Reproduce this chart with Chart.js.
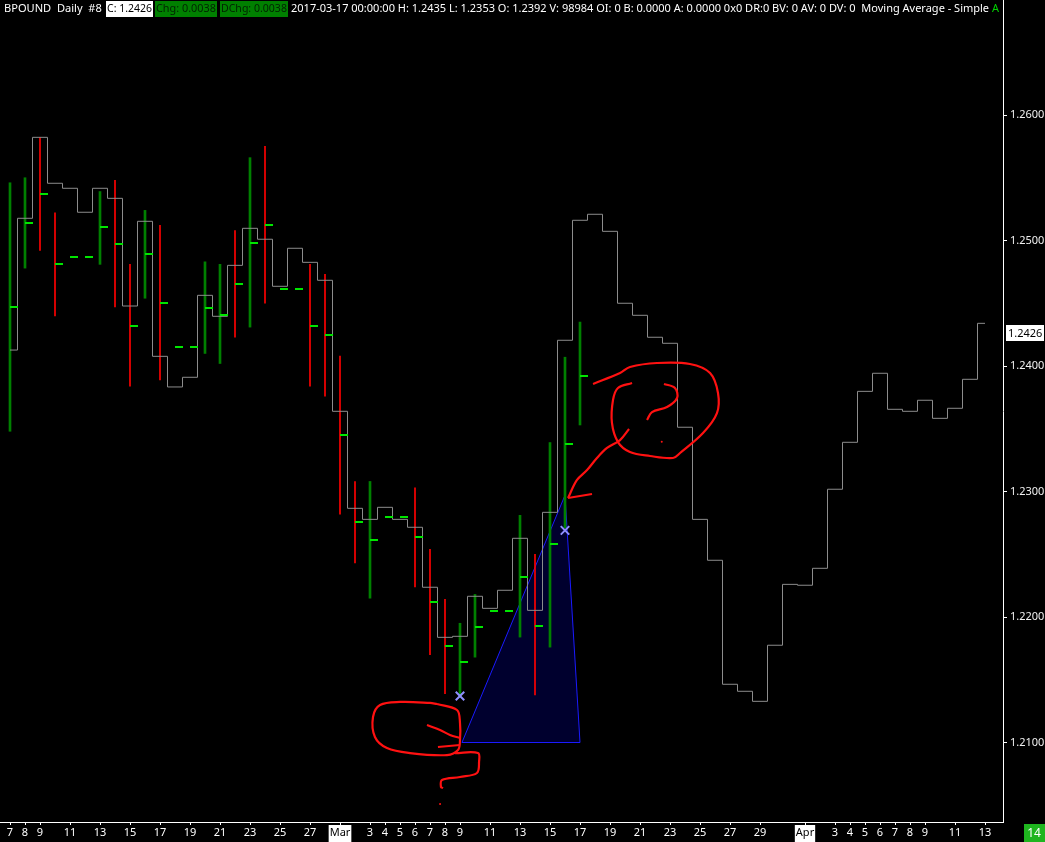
<!DOCTYPE html>
<html>
<head>
<meta charset="utf-8">
<title>BPOUND Daily</title>
<script src="https://cdn.jsdelivr.net/npm/chart.js@4.4.1/dist/chart.umd.min.js"></script>
<style>
  html, body { margin: 0; padding: 0; background: #000; overflow: hidden; }
  #wrap { width: 1045px; height: 842px; }
</style>
</head>
<body>
<div id="wrap"><canvas id="myChart" width="1045" height="842"></canvas></div>
<script>
// one slot per calendar day, day 0 = 2017-02-07
var tickDays = [0, 1, 2, 4, 6, 8, 10, 12, 14, 16, 18, 20, 22, 24, 25, 26, 27, 28, 29, 30, 32, 34, 36, 38, 40, 42, 44, 46, 48, 50, 53, 55, 56, 57, 58, 59, 60, 61, 63, 65];
var tickLabels = ['7', '8', '9', '11', '13', '15', '17', '19', '21', '23', '25', '27', 'Mar', '3', '4', '5', '6', '7', '8', '9', '11', '13', '15', '17', '19', '21', '23', '25', '27', '29', 'Apr', '3', '4', '5', '6', '7', '8', '9', '11', '13'];
var priceTicks = [1.21, 1.22, 1.23, 1.24, 1.25, 1.26];

// daily bars Feb 7 .. Mar 17 (weekends only have the tick)
var barHigh = [1.2546, 1.2550, 1.2582, 1.2522, null, null, 1.2539, 1.2548, 1.2481, 1.2524, 1.2512, null, null, 1.2483, 1.2481, 1.2508, 1.2566, 1.2575, null, null, 1.2481, 1.2473, 1.2408, 1.2308, 1.2308, null, null, 1.2303, 1.2254, 1.2214, 1.2195, 1.2218, null, null, 1.2281, 1.2250, 1.2339, 1.2407, 1.2435];
var barLow = [1.2348, 1.2478, 1.2492, 1.2440, null, null, 1.2481, 1.2447, 1.2384, 1.2454, 1.2389, null, null, 1.2410, 1.2402, 1.2423, 1.2431, 1.2450, null, null, 1.2384, 1.2376, 1.2282, 1.2243, 1.2215, null, null, 1.2224, 1.2170, 1.2139, 1.2136, 1.2168, null, null, 1.2184, 1.2138, 1.2176, 1.2271, 1.2353];
var barTick = [1.2447, 1.2514, 1.2537, 1.2481, 1.2487, 1.2487, 1.2511, 1.2497, 1.2432, 1.2489, 1.2450, 1.2415, 1.2415, 1.2446, 1.2441, 1.2465, 1.2498, 1.2512, 1.2461, 1.2461, 1.2432, 1.2425, 1.2345, 1.2276, 1.2261, 1.2280, 1.2280, 1.2264, 1.2212, 1.2177, 1.2164, 1.2192, 1.2205, 1.2205, 1.2232, 1.2193, 1.2258, 1.2338, 1.2392];
var barDir = ['u', 'u', 'd', 'd', '', '', 'u', 'd', 'd', 'u', 'd', '', '', 'u', 'u', 'd', 'u', 'd', '', '', 'd', 'd', 'd', 'd', 'u', '', '', 'd', 'd', 'd', 'u', 'u', '', '', 'u', 'd', 'u', 'u', 'u'];

// Moving Average - Simple, Feb 7 .. Apr 13
var movingAvg = [1.24127, 1.25177, 1.25822, 1.25456, 1.25416, 1.25225, 1.25416, 1.25336, 1.24478, 1.25153,
  1.24077, 1.23833, 1.2391, 1.24563, 1.24396, 1.24802, 1.25097, 1.2501, 1.24635, 1.24938,
  1.24826, 1.24683, 1.23639, 1.22866, 1.22778, 1.22874, 1.22778, 1.22715, 1.22237, 1.21838,
  1.21846, 1.22165, 1.22069, 1.22213, 1.22627, 1.22053, 1.22834, 1.24205, 1.25161, 1.25209,
  1.25073, 1.245, 1.24404, 1.24229, 1.24181, 1.23512, 1.22778, 1.22452, 1.21464, 1.21408,
  1.21328, 1.21775, 1.2226, 1.22253, 1.22388, 1.23018, 1.23392, 1.23798, 1.23942, 1.23655,
  1.23639, 1.23727, 1.23583, 1.23663, 1.23894, 1.2434];

// drawings, as [day, price]
var triangle = [[30.13, 1.2100], [37, 1.2297], [38, 1.2100], [30.13, 1.2100]];
var markers = [[30, 1.2137], [37, 1.2269]];
var redStrokes = [
  [[28.47, 1.21307], [29.8, 1.21259], [30.0, 1.21155], [30.0, 1.2102], [29.87, 1.2094], [29.13, 1.2090], [26.67, 1.20916], [25.13, 1.20956], [24.33, 1.21044], [24.2, 1.21203], [24.67, 1.21299], [26.0, 1.21323], [28.0, 1.21315], [28.47, 1.21307]],
  [[27.8, 1.21139], [28.67, 1.211], [29.33, 1.2106], [30, 1.21036]],
  [[28.53, 1.20964], [30, 1.2098]],
  [[29.67, 1.20916], [31.2, 1.20916], [31.27, 1.20845], [31.13, 1.20757], [30, 1.20725], [28.8, 1.20701], [28.73, 1.20645], [28.87, 1.20637]],
  [[38.87, 1.23857], [40.67, 1.23944], [41.33, 1.23992], [43.13, 1.24024], [45.33, 1.24016], [46.67, 1.23944], [47.2, 1.23785], [47.13, 1.23625], [46.2, 1.23466], [44.67, 1.23307], [44.2, 1.23267], [42.67, 1.23283], [41.33, 1.23315], [40.53, 1.23394], [40.13, 1.23546], [40.2, 1.23729], [40.53, 1.23825], [41.47, 1.23865]],
  [[43.6, 1.23857], [44.33, 1.23825], [44.47, 1.23745], [43.8, 1.23673], [42.8, 1.23633], [42.47, 1.2357]],
  [[41.27, 1.23498], [40.67, 1.2341], [39.8, 1.23347], [39.13, 1.23267], [38.47, 1.23171], [37.8, 1.23092], [37.2, 1.22948]],
  [[37.2, 1.22948], [38.8, 1.2298]]
];
var redDots = [[28.67, 1.2051], [43.45, 1.23397]];

var lastClose = 1.2426;
var todayLabel = '14';
var headerParts = ['BPOUND  Daily  #8', 'C: 1.2426', 'Chg: 0.0038', 'DChg: 0.0038',
  '2017-03-17 00:00:00 H: 1.2435 L: 1.2353 O: 1.2392 V: 98984 OI: 0 B: 0.0000 A: 0.0000 0x0 DR:0 BV: 0 AV: 0 DV: 0  Moving Average - Simple '];

var FONT = '"Noto Sans", "Open Sans", sans-serif';

function pts(arr) {
  return arr.map(function(p) { return {x: p[0], y: p[1]}; });
}

var upBars = [], downBars = [], ticks = [], maPts = [];
for (var i = 0; i < barTick.length; i++) {
  if (barDir[i] === 'u') upBars.push({x: i, y: [barLow[i], barHigh[i]]});
  if (barDir[i] === 'd') downBars.push({x: i, y: [barLow[i], barHigh[i]]});
  ticks.push({x: i, y: barTick[i]});
}
for (var j = 0; j < movingAvg.length; j++) maPts.push({x: j, y: movingAvg[j]});

// tick mark drawn to the right of the bar
var tickImg = document.createElement('canvas');
tickImg.width = 18; tickImg.height = 2;
var tctx = tickImg.getContext('2d');
tctx.fillStyle = '#00e600';
tctx.fillRect(9, 0, 8, 2);

var datasets = [
  {type: 'line', data: pts(triangle), fill: 'shape', backgroundColor: '#00002e', borderColor: '#1a1aff', borderWidth: 1, pointRadius: 0, tension: 0, order: 10},
  {type: 'bar', data: upBars, backgroundColor: '#008000', barThickness: 2, grouped: false, order: 6},
  {type: 'bar', data: downBars, backgroundColor: '#ff0000', barThickness: 1, grouped: false, order: 6},
  {type: 'line', data: maPts, stepped: 'middle', borderColor: '#8c8c8c', borderWidth: 1, pointRadius: 0, order: 5},
  {type: 'line', data: ticks, showLine: false, pointStyle: tickImg, pointRadius: 4, order: 4},
  {type: 'line', data: pts(markers), showLine: false, pointStyle: 'crossRot', pointRadius: 6, pointBorderWidth: 2, pointBorderColor: '#8f8fff', order: 3}
];
redStrokes.forEach(function(s) {
  datasets.push({type: 'line', data: pts(s), borderColor: '#ff1111', borderWidth: 2.2, pointRadius: 0, tension: 0.35, order: 1});
});
datasets.push({type: 'line', data: pts(redDots), showLine: false, pointRadius: 1, pointBackgroundColor: '#ff1111', pointBorderWidth: 0, order: 1});

function fitFont(c, text, w, max) {
  c.font = max + 'px ' + FONT;
  var m = c.measureText(text).width;
  var size = m > w ? max * w / m : max;
  c.font = size + 'px ' + FONT;
}

function isMonth(v) {
  return /[A-Za-z]/.test(tickLabels[tickDays.indexOf(v)]);
}

var overlay = {
  id: 'overlay',
  afterDraw: function(chart) {
    var c = chart.ctx, area = chart.chartArea, ys = chart.scales.y;
    c.save();
    c.beginPath(); c.rect(0, 0, area.right - 1, 20); c.clip();
    c.textBaseline = 'middle';
    c.textAlign = 'left';
    // symbol
    fitFont(c, headerParts[0], 98, 12);
    c.fillStyle = '#ffffff'; c.fillText(headerParts[0], 4, 9);
    // boxes
    var boxes = [[106, 47, '#ffffff', '#000000'], [155, 62, '#008000', '#002400'], [220, 68, '#008000', '#002400']];
    for (var b = 0; b < boxes.length; b++) {
      var bx = boxes[b];
      c.fillStyle = bx[2]; c.fillRect(bx[0], 1, bx[1], 16);
      fitFont(c, headerParts[b + 1], bx[1] - 2, 12);
      c.fillStyle = bx[3]; c.fillText(headerParts[b + 1], bx[0] + 1, 9);
    }
    fitFont(c, headerParts[4], 702, 12);
    c.fillStyle = '#ffffff'; c.fillText(headerParts[4], 291, 9);
    var endX = 291 + c.measureText(headerParts[4]).width;
    c.fillStyle = '#00d000'; c.fillText('A', endX, 9);
    c.restore();

    // last price label on the axis
    var py = ys.getPixelForValue(lastClose);
    c.save();
    c.fillStyle = '#ffffff';
    c.fillRect(area.right + 3, Math.round(py) - 8, 38, 16);
    c.fillStyle = '#000000';
    c.font = '11px ' + FONT;
    c.textBaseline = 'middle';
    c.fillText(lastClose.toFixed(4), area.right + 5, py);
    // current day box
    c.fillStyle = '#1fb51f';
    c.fillRect(1024, area.bottom + 2, 21, 20);
    c.fillStyle = '#ffffff';
    c.font = '12px ' + FONT;
    c.textAlign = 'center';
    c.fillText(todayLabel, 1034, area.bottom + 12);
    c.restore();
  }
};

var ctx = document.getElementById('myChart').getContext('2d');
var myChart = new Chart(ctx, {
  type: 'bar',
  data: {datasets: datasets},
  plugins: [overlay],
  options: {
    responsive: false,
    animation: false,
    events: [],
    layout: {padding: 0, autoPadding: false},
    plugins: {legend: {display: false}, tooltip: {enabled: false}},
    scales: {
      x: {
        type: 'linear',
        position: 'bottom',
        min: -10 / 15,
        max: -10 / 15 + 1003 / 15,
        offset: false,
        afterFit: function(s) { s.height = 20; s.paddingLeft = 0; s.paddingRight = 0; },
        afterBuildTicks: function(s) { s.ticks = tickDays.map(function(d) { return {value: d}; }); },
        border: {display: true, color: '#ffffff', width: 1},
        grid: {display: true, drawOnChartArea: false, drawTicks: true, tickLength: 3, color: '#ffffff', offset: false},
        ticks: {
          autoSkip: false,
          maxRotation: 0,
          padding: 1,
          font: {family: FONT, size: 11},
          color: function(c) { return isMonth(c.tick.value) ? '#000000' : '#ffffff'; },
          showLabelBackdrop: function(c) { return isMonth(c.tick.value); },
          backdropColor: '#ffffff',
          backdropPadding: {top: 1, bottom: 3, left: 1, right: 1},
          callback: function(v) { return tickLabels[tickDays.indexOf(v)]; }
        }
      },
      y: {
        type: 'linear',
        position: 'right',
        min: 1.26 - 707 / 12550,
        max: 1.26 + 115 / 12550,
        afterFit: function(s) { s.width = 42; s.paddingTop = 0; s.paddingBottom = 0; },
        afterBuildTicks: function(s) { s.ticks = priceTicks.map(function(v) { return {value: v}; }); },
        border: {display: true, color: '#ffffff', width: 1},
        grid: {display: true, drawOnChartArea: false, tickLength: 4, color: '#ffffff'},
        ticks: {
          padding: 3,
          color: '#f0f0f0',
          font: {family: FONT, size: 11},
          callback: function(v) { return v.toFixed(4); }
        }
      }
    }
  }
});
</script>
</body>
</html>
